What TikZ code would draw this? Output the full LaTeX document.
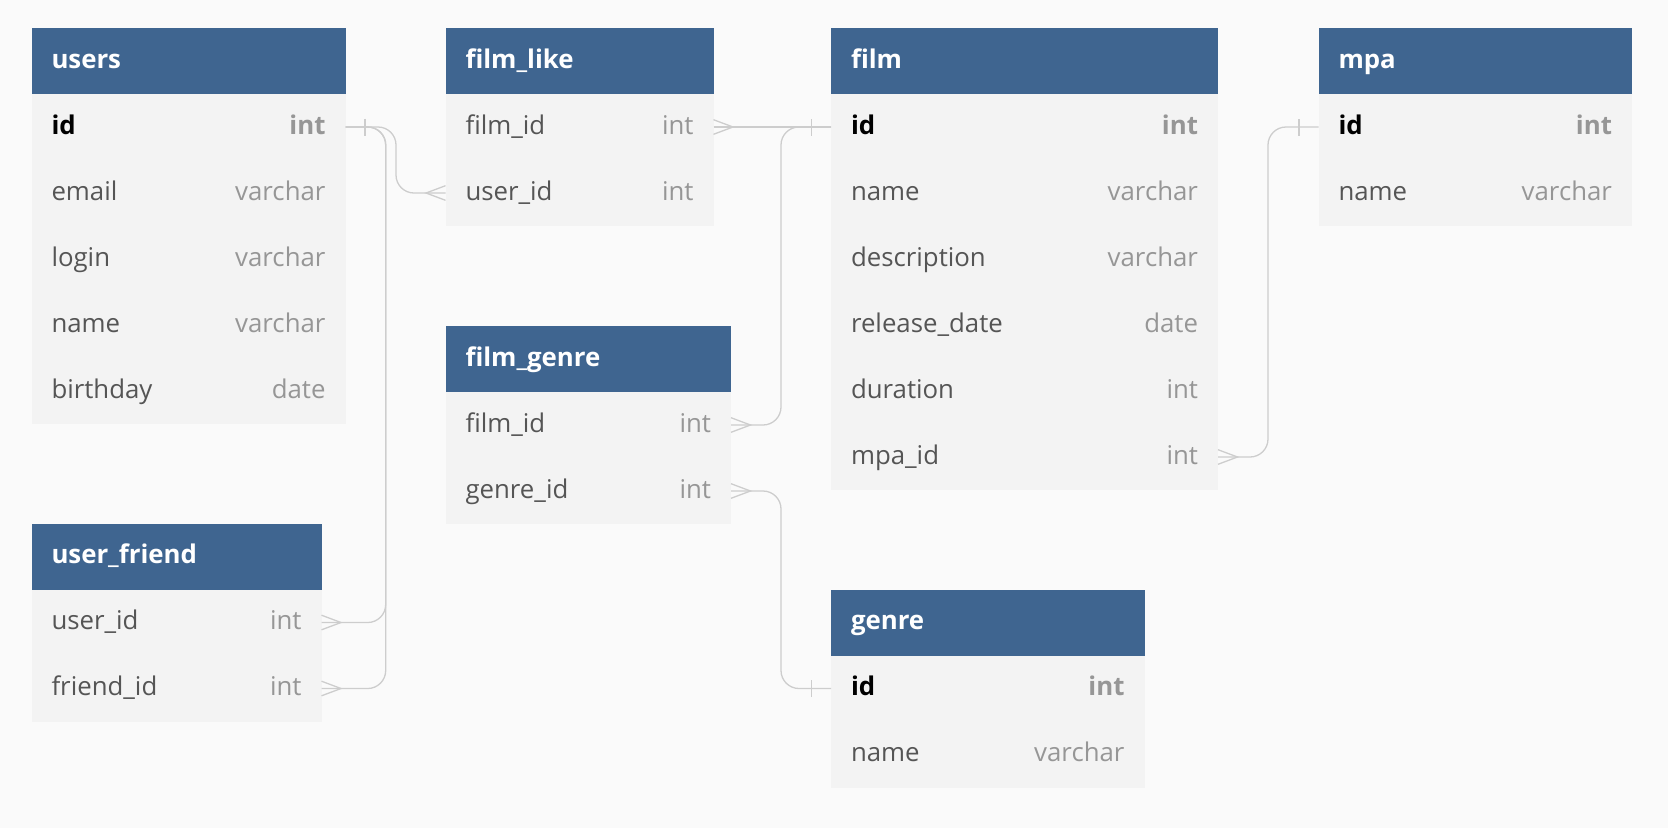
\documentclass[tikz,border=0pt]{standalone}
\usepackage{fontspec}
\setmainfont{Open Sans}
\usepackage{tikz}
\usetikzlibrary{positioning}
\definecolor{hdrblue}{RGB}{63, 101, 144}
\definecolor{rowgray}{RGB}{243, 243, 243}
\definecolor{bggray}{RGB}{250, 250, 250}
\definecolor{fieldgray}{RGB}{85, 85, 85}
\definecolor{typegray}{RGB}{150, 150, 150}
\definecolor{linkgray}{RGB}{205, 205, 205}

\begin{document}
\begin{tikzpicture}[x=1pt, y=-1pt,
  tblhead/.style={anchor=north west, fill=hdrblue, text=white, font=\fontsize{25.8}{30}\selectfont\bfseries,
    minimum height=66pt, inner xsep=20pt, inner ysep=0pt, outer sep=0pt, text height=19pt, text depth=5pt},
  tblrow/.style={anchor=north west, fill=rowgray, text=fieldgray, font=\fontsize{25.8}{30}\selectfont,
    minimum height=66pt, inner xsep=20pt, inner ysep=0pt, outer sep=0pt, text height=19pt, text depth=5pt},
  pkrow/.style={tblrow, text=black, font=\fontsize{25.8}{30}\selectfont\bfseries},
  link/.style={draw=linkgray, line width=1.3pt, rounded corners=18pt},
  crowfoot/.pic={\draw[linkgray, line width=1.3pt] (0,-7.3) -- (19.5,0) -- (0,7.3);},
  onebar/.pic={\draw[linkgray, line width=1.3pt] (19.5,-8.5) -- (19.5,8.5);}
]
  \useasboundingbox (0,0) rectangle (1668,828);
  \fill[bggray] (0,0) rectangle (1668,828);

  % users
  \node[tblhead] (users) at (31.5,28) {\makebox[274pt][l]{users}};
  \node[pkrow] (users-1) at (31.5,94) {\makebox[274pt]{id\hfill\textcolor{typegray}{int}}};
  \foreach \f/\t [count=\k from 2] in {email/varchar, login/varchar, name/varchar, birthday/date} {
    \node[tblrow] (users-\k) at (31.5, {28+66*\k}) {\makebox[274pt]{\f\hfill\textcolor{typegray}{\t}}};
  }

  % user_friend
  \node[tblhead] (friend) at (31.5,523.5) {\makebox[250pt][l]{user\_friend}};
  \foreach \f/\t [count=\k] in {user\_id/int, friend\_id/int} {
    \node[tblrow] (friend-\k) at (31.5, {523.5+66*\k}) {\makebox[250pt]{\f\hfill\textcolor{typegray}{\t}}};
  }

  % film_like
  \node[tblhead] (filmlike) at (445.5,28) {\makebox[228pt][l]{film\_like}};
  \foreach \f/\t [count=\k] in {film\_id/int, user\_id/int} {
    \node[tblrow] (filmlike-\k) at (445.5, {28+66*\k}) {\makebox[228pt]{\f\hfill\textcolor{typegray}{\t}}};
  }

  % film_genre
  \node[tblhead] (filmgenre) at (445.5,326) {\makebox[245.5pt][l]{film\_genre}};
  \foreach \f/\t [count=\k] in {film\_id/int, genre\_id/int} {
    \node[tblrow] (filmgenre-\k) at (445.5, {326+66*\k}) {\makebox[245.5pt]{\f\hfill\textcolor{typegray}{\t}}};
  }

  % film
  \node[tblhead] (film) at (831,28) {\makebox[347pt][l]{film}};
  \node[pkrow] (film-1) at (831,94) {\makebox[347pt]{id\hfill\textcolor{typegray}{int}}};
  \foreach \f/\t [count=\k from 2] in {name/varchar, description/varchar, release\_date/date, duration/int, mpa\_id/int} {
    \node[tblrow] (film-\k) at (831, {28+66*\k}) {\makebox[347pt]{\f\hfill\textcolor{typegray}{\t}}};
  }

  % genre
  \node[tblhead] (genre) at (831,589.5) {\makebox[273.5pt][l]{genre}};
  \node[pkrow] (genre-1) at (831,655.5) {\makebox[273.5pt]{id\hfill\textcolor{typegray}{int}}};
  \node[tblrow] (genre-2) at (831,721.5) {\makebox[273.5pt]{name\hfill\textcolor{typegray}{varchar}}};

  % mpa
  \node[tblhead] (mpa) at (1318.5,28) {\makebox[273.5pt][l]{mpa}};
  \node[pkrow] (mpa-1) at (1318.5,94) {\makebox[273.5pt]{id\hfill\textcolor{typegray}{int}}};
  \node[tblrow] (mpa-2) at (1318.5,160) {\makebox[273.5pt]{name\hfill\textcolor{typegray}{varchar}}};

  % bend columns
  \coordinate (likebend) at (396,0);
  \coordinate (friendbend) at (385.7,0);
  \coordinate (filmbend) at (781,0);
  \coordinate (mpabend) at (1268,0);

  % users -- film_like, user_friend
  \draw[link] (users-1.east) -- (users-1.east -| likebend) |- (filmlike-2.west);
  \draw[link] (users-1.east) -- (users-1.east -| friendbend) |- (friend-1.east);
  \draw[link] (users-1.east) -- (users-1.east -| friendbend) |- (friend-2.east);
  \pic at (users-1.east) {onebar};
  \pic[rotate=180] at (filmlike-2.west) {crowfoot};
  \pic at (friend-1.east) {crowfoot};
  \pic at (friend-2.east) {crowfoot};

  % film -- film_like, film_genre
  \draw[link] (filmlike-1.east) -- (film-1.west);
  \draw[link] (filmgenre-1.east) -- (filmgenre-1.east -| filmbend) |- (film-1.west);
  \pic at (filmlike-1.east) {crowfoot};
  \pic at (filmgenre-1.east) {crowfoot};
  \pic[rotate=180] at (film-1.west) {onebar};

  % genre -- film_genre
  \draw[link] (filmgenre-2.east) -- (filmgenre-2.east -| filmbend) |- (genre-1.west);
  \pic at (filmgenre-2.east) {crowfoot};
  \pic[rotate=180] at (genre-1.west) {onebar};

  % mpa -- film
  \draw[link] (film-6.east) -- (film-6.east -| mpabend) |- (mpa-1.west);
  \pic at (film-6.east) {crowfoot};
  \pic[rotate=180] at (mpa-1.west) {onebar};
\end{tikzpicture}
\end{document}
